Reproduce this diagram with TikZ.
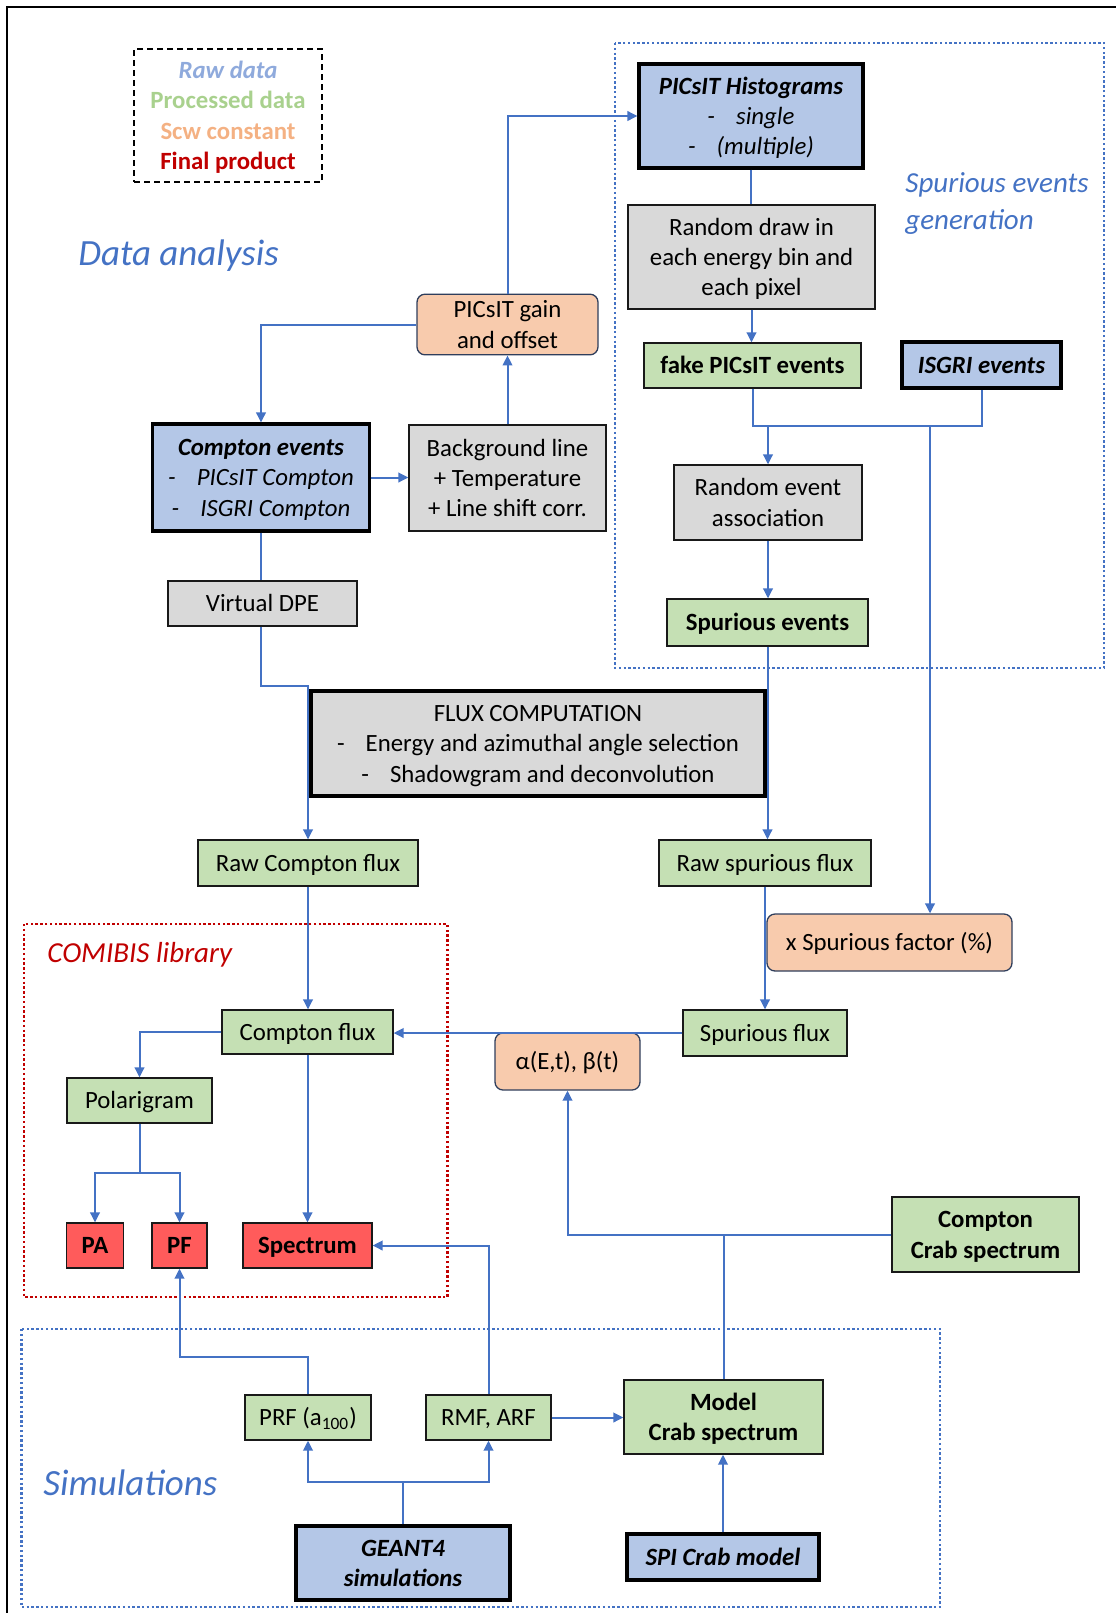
\documentclass[tikz,border=0pt]{standalone}
\usepackage{fontspec}
\setmainfont{Carlito}
\usetikzlibrary{arrows.meta}
\definecolor{rawfill}{HTML}{B4C7E7}
\definecolor{procfill}{HTML}{C5E0B4}
\definecolor{scwfill}{HTML}{F8CBAD}
\definecolor{finfill}{HTML}{FF5B5B}
\definecolor{grayfill}{HTML}{D9D9D9}
\definecolor{linkblue}{HTML}{4472C4}
\definecolor{darkred}{HTML}{C00000}
\definecolor{rawtext}{HTML}{8FAADC}
\definecolor{proctext}{HTML}{A9D18E}
\definecolor{scwtext}{HTML}{F4B183}
\definecolor{rndborder}{HTML}{2F3E5C}
\newcommand\wst{\rule[-0.269em]{0pt}{1.221em}}
\newcommand\dsh{-\hspace{0.85em}}
\begin{document}
\begin{tikzpicture}[x=0.5pt,y=-0.5pt,
  bfont/.style={font=\fontsize{12.4}{15.2}\selectfont},
  base/.style={draw=black!90, line width=0.65pt, inner sep=0pt, align=center, bfont},
  sz/.style 2 args={minimum width=#1*0.5pt, minimum height=#2*0.5pt},
  thickbox/.style={line width=1.6pt, draw=black},
  rawbox/.style={base, thickbox, fill=rawfill, font=\fontsize{12.4}{15.2}\selectfont\itshape},
  procbox/.style={base, fill=procfill},
  procbold/.style={base, fill=procfill, font=\fontsize{12.4}{15.2}\selectfont\bfseries},
  scwbox/.style={base, fill=scwfill, rounded corners=4pt, draw=rndborder},
  finbox/.style={base, fill=finfill, font=\fontsize{12.4}{15.2}\selectfont\bfseries},
  graybox/.style={base, fill=grayfill},
  legendbox/.style={base, draw=black, dash pattern=on 3pt off 2pt},
  conn/.style={draw=linkblue, line width=1pt},
  arr/.style={conn, -{Triangle[length=5pt,width=4.8pt]}},
  bluedot/.style={draw=linkblue, line width=1.35pt, dash pattern=on 1.2pt off 1.2pt},
  reddot/.style={draw=darkred, line width=1.35pt, dash pattern=on 1.2pt off 1.2pt},
  bigblue/.style={inner sep=0pt, anchor=west, text=linkblue, font=\fontsize{18.5}{22}\selectfont\itshape},
  midlabel/.style={inner sep=0pt, anchor=west, align=left, font=\fontsize{14.5}{18.5}\selectfont\itshape}
]
\useasboundingbox (0,0) rectangle (1115,1613);
\draw[line width=1pt] (7,1625) -- (7,7) -- (1125,7);

% containers
\draw[bluedot] (615,43) rectangle (1104,668);
\draw[reddot] (24,924) rectangle (447.5,1297);
\draw[bluedot] (21.5,1329) rectangle (940,1607);

% labels
\node[legendbox, sz={188}{133}] (legend) at (228,115.5)
  {\wst\textcolor{rawtext}{\bfseries\itshape Raw data}\\
   \textcolor{proctext}{\bfseries Processed data}\\
   \textcolor{scwtext}{\bfseries Scw constant}\\
   \textcolor{darkred}{\bfseries Final product}\wst};
\node[bigblue] (lda) at (78,256) {Data analysis};
\node[bigblue] (lsim) at (43,1483) {Simulations};
\node[midlabel, text=linkblue] (lspur) at (905,204) {Spurious events\\generation};
\node[midlabel, text=darkred] (lcom) at (47,955) {COMIBIS library};

% nodes
\node[rawbox, sz={224}{104}] (hist) at (751,116) {\wst\textbf{PICsIT Histograms}\\\dsh single\\\dsh (multiple)\wst};
\node[graybox, sz={247}{104}] (rdraw) at (751.5,257) {\wst Random draw in\\each energy bin and\\each pixel\wst};
\node[procbold, sz={217}{45}] (fake) at (752.5,365.5) {\wst fake PICsIT events};
\node[rawbox, sz={159}{46}] (isgri) at (981.5,365) {\wst\textbf{ISGRI events}};
\node[scwbox, sz={181}{57}] (gain) at (507.5,324.5) {\wst PICsIT gain\\and offset\wst};
\node[rawbox, sz={216.5}{107}] (cev) at (261,477.5) {\wst\textbf{Compton events}\\\dsh PICsIT Compton\\\dsh ISGRI Compton\wst};
\node[graybox, sz={197}{106}] (bg) at (507.5,478) {\wst Background line\\+ Temperature\\+ Line shift corr.\wst};
\node[graybox, sz={189}{45}] (vdpe) at (262.5,603.5) {\wst Virtual DPE};
\node[graybox, sz={188}{75}] (rea) at (768,502.5) {\wst Random event\\association\wst};
\node[procbold, sz={201}{47}] (spev) at (767.5,622.5) {\wst Spurious events};
\node[graybox, thickbox, sz={454}{105}] (flux) at (538,743.5) {\wst FLUX COMPUTATION\\\dsh Energy and azimuthal angle selection\\\dsh Shadowgram and deconvolution\wst};
\node[procbox, sz={220}{46}] (rcf) at (308,863) {\wst Raw Compton flux};
\node[procbox, sz={212}{46}] (rsf) at (765,863) {\wst Raw spurious flux};
\node[scwbox, sz={245}{57}] (sfac) at (889.5,942.5) {\wst x Spurious factor (\%)};
\node[procbox, sz={171}{44}] (cflux) at (307.5,1032) {\wst Compton flux};
\node[procbox, sz={164}{46}] (sflux) at (765,1033) {\wst Spurious flux};
\node[scwbox, sz={145}{57}] (alpha) at (567.5,1061.5) {\wst α(E,t), β(t)};
\node[procbox, sz={145}{45}] (polar) at (139.5,1100.5) {\wst Polarigram};
\node[finbox, sz={56.5}{45}] (pa) at (95,1245.5) {\wst PA};
\node[finbox, sz={55}{45}] (pf) at (179.5,1245.5) {\wst PF};
\node[finbox, sz={129}{45}] (spec) at (307.5,1245.5) {\wst Spectrum};
\node[procbold, sz={187}{75}] (ccrab) at (985.5,1234.5) {\wst Compton\\Crab spectrum\wst};
\node[procbox, sz={126}{45}] (prf) at (308,1417.5) {\wst PRF (a\textsubscript{100})};
\node[procbox, sz={125}{45}] (rmf) at (488.5,1417.5) {\wst RMF, ARF};
\node[procbold, sz={199}{74}] (model) at (723.5,1417) {\wst Model\\Crab spectrum\wst};
\node[rawbox, sz={214}{74}] (geant) at (403,1563) {\wst\textbf{GEANT4}\\\textbf{simulations}\wst};
\node[rawbox, sz={192}{46}] (spi) at (723,1557) {\wst\textbf{SPI Crab model}};

% connectors
\draw[arr] (gain.north) |- (hist.west);
\draw[arr] (gain.west) -| (cev.north);
\draw[arr] (cev.east) -- (cev.east -| bg.west);
\draw[arr] (bg.north) -- (gain.south);
\draw[conn] (cev.south) -- (cev.south |- vdpe.north);
\coordinate (b1) at (261,686);
\draw[arr] (cev.south |- vdpe.south) -- (b1) -| (rcf.north);
\draw[conn] (hist.south) -- (hist.south |- rdraw.north);
\draw[arr] (rdraw.south) -- (rdraw.south |- fake.north);
\coordinate (jl) at (752.5,426);
\draw[conn] (fake.south) -- (jl) -| (isgri.south);
\draw[arr] (rea.north |- jl) -- (rea.north);
\coordinate (jr) at (930,426);
\draw[arr] (jr) -- (jr |- sfac.north);
\draw[arr] (rea.south) -- (rea.south |- spev.north);
\draw[arr] (spev.south) -- (spev.south |- rsf.north);
\draw[arr] (rsf.south) -- (rsf.south |- sflux.north);
\draw[arr] (sflux.west) -- (sflux.west -| cflux.east);
\draw[arr] (cflux.west) -| (polar.north);
\coordinate (pj) at (139.5,1173);
\draw[conn] (polar.south) -- (pj);
\draw[arr] (pj) -| (pa.north);
\draw[arr] (pj) -| (pf.north);
\draw[arr] (rcf.south) -- (rcf.south |- cflux.north);
\draw[arr] (cflux.south) -- (cflux.south |- spec.north);
\draw[arr] (rmf.north) |- (spec.east);
\coordinate (pr) at (308,1357);
\draw[arr] (prf.north) -- (pr) -| (pf.south);
\coordinate (gj) at (403,1482);
\draw[conn] (geant.north) -- (gj);
\draw[arr] (gj) -| (prf.south);
\draw[arr] (gj) -| (rmf.south);
\draw[arr] (rmf.east) -- (rmf.east -| model.west);
\draw[arr] (spi.north) -- (spi.north |- model.south);
\draw[arr] (ccrab.west) -| (alpha.south);
\draw[conn] (model.north) -- (model.north |- ccrab.west);
\end{tikzpicture}
\end{document}
